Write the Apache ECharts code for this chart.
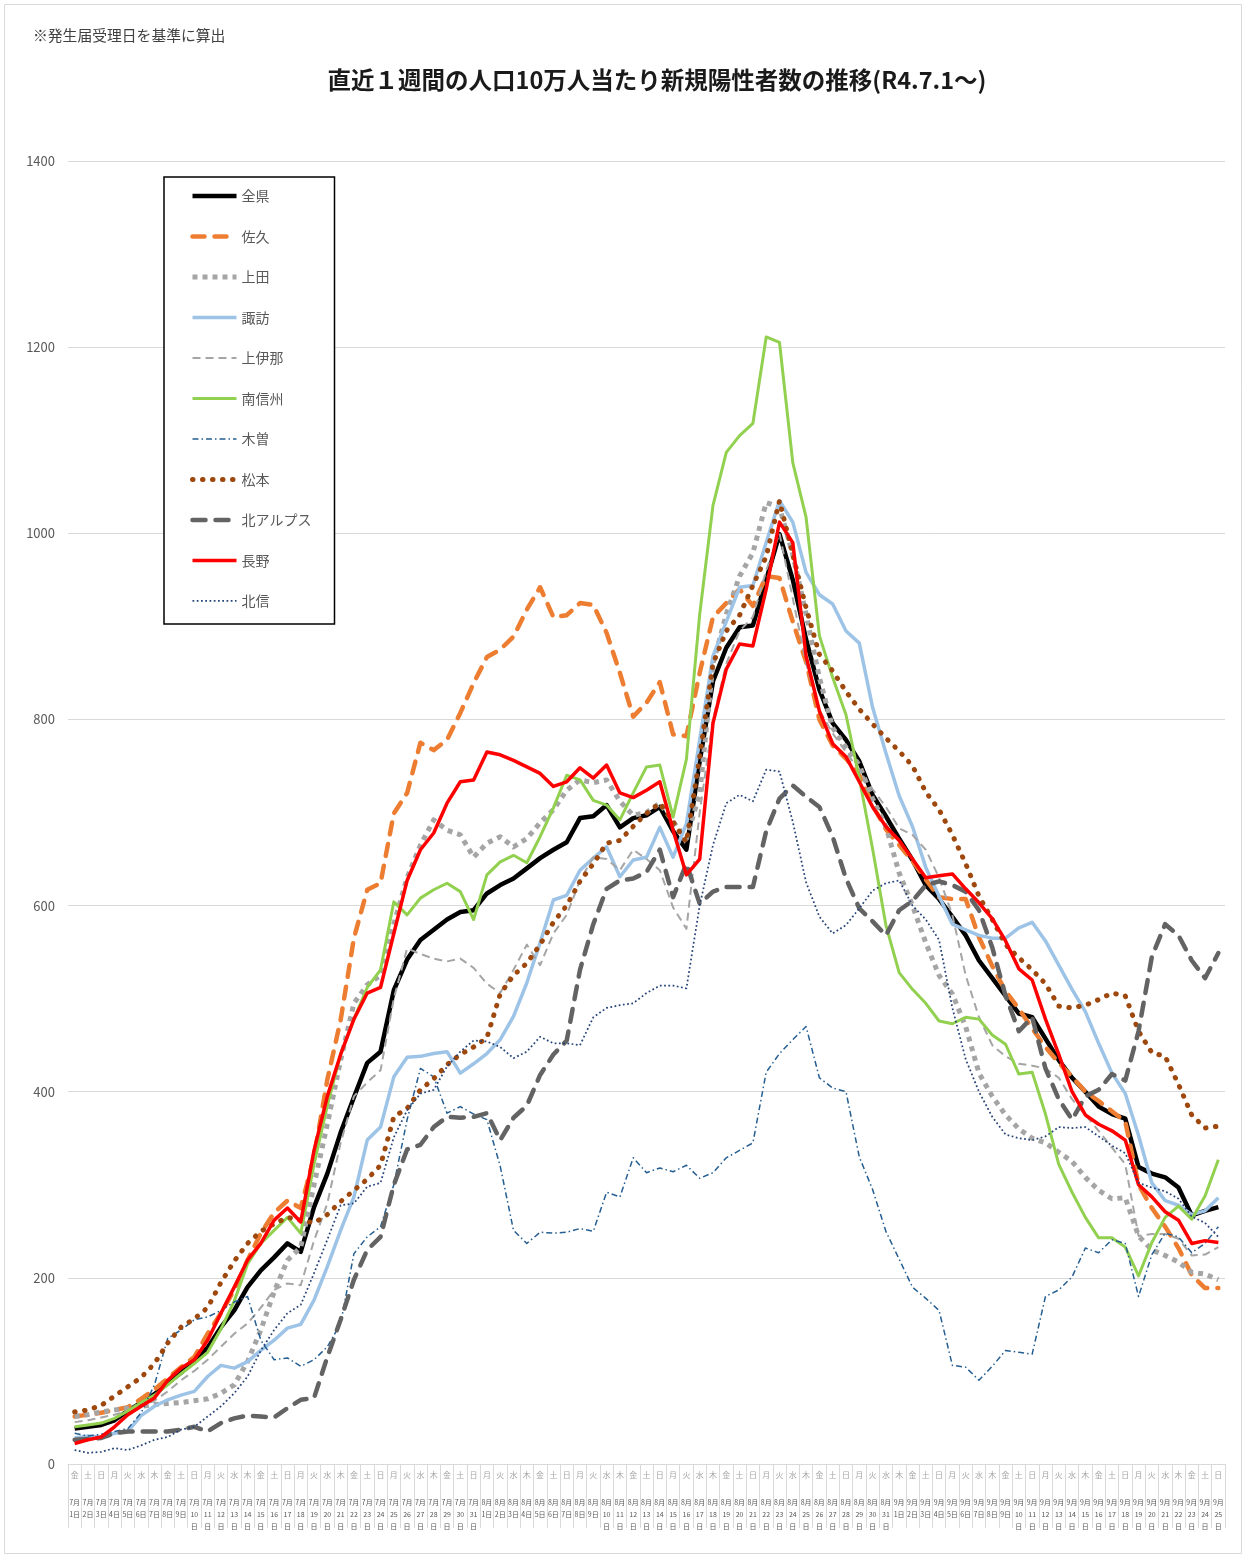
<!DOCTYPE html>
<html><head><meta charset="utf-8">
<script src="https://cdn.jsdelivr.net/npm/echarts@6/dist/echarts.min.js"></script>
<style>html,body{margin:0;padding:0;background:#fff}#c{width:1245px;height:1558px}</style>
</head><body><div id="c"></div>
<script>
const categories = ['7/1','7/2','7/3','7/4','7/5','7/6','7/7','7/8','7/9','7/10','7/11','7/12','7/13','7/14','7/15','7/16','7/17','7/18','7/19','7/20','7/21','7/22','7/23','7/24','7/25','7/26','7/27','7/28','7/29','7/30','7/31',
'8/1','8/2','8/3','8/4','8/5','8/6','8/7','8/8','8/9','8/10','8/11','8/12','8/13','8/14','8/15','8/16','8/17','8/18','8/19','8/20','8/21','8/22','8/23','8/24','8/25','8/26','8/27','8/28','8/29','8/30','8/31',
'9/1','9/2','9/3','9/4','9/5','9/6','9/7','9/8','9/9','9/10','9/11','9/12','9/13','9/14','9/15','9/16','9/17','9/18','9/19','9/20','9/21','9/22','9/23','9/24','9/25'];
const weekdays = ('金土日月火水木金土日月火水木金土日月火水木金土日月火水木金土日' +
  '月火水木金土日月火水木金土日月火水木金土日月火水木金土日月火水' +
  '木金土日月火水木金土日月火水木金土日月火水木金土日').split('');

const zenken = [38,40,42,47,57,66,75,87,98,112, 125,147,165,190,208,222,237,228,276,312, 356,394,431,443,509,542,563,574,585,593, 595,613,622,629,640,651,660,668,694,696, 708,684,694,697,706,680,660,755,841,877, 899,901,950,999,950,886,832,796,778,755, 719,696,672,649,622,607,588,568,541,522, 503,484,480,457,434,415,400,384,376,371, 319,312,308,297,267,272,276];
const saku = [51,53,55,58,61,70,80,92,104,115, 140,162,187,219,248,270,283,275,330,413, 477,565,617,624,699,721,775,767,778,807, 839,867,875,889,918,942,910,912,925,923, 893,850,803,818,840,784,782,850,910,925, 940,922,954,952,905,862,800,772,758,740, 708,682,665,648,628,609,607,607,566,535, 508,489,468,448,431,416,400,390,379,368, 300,275,255,232,203,189,189];
const ueda = [51,53,56,58,60,62,64,65,66,68, 70,76,85,110,144,185,219,233,300,365, 434,495,515,525,580,630,665,692,681,676, 652,667,674,663,672,689,703,724,735,732, 735,712,697,700,710,690,672,720,860,913, 954,979,1033,1028,977,913,845,791,770,751, 715,685,635,600,560,525,505,470,420,395, 375,360,350,345,335,325,308,294,285,286, 245,230,224,217,206,204,198];
const suwa = [28,30,29,33,35,52,62,69,74,78, 94,106,103,110,122,133,146,150,176,212, 251,287,348,362,416,437,438,441,443,420, 430,441,456,481,517,560,606,611,638,651, 663,631,649,652,684,652,688,778,868,905, 942,944,990,1035,1012,958,934,924,895,882, 813,764,718,685,641,610,580,574,568,565, 565,576,582,562,536,510,486,452,420,398, 353,302,283,278,268,272,286];
const kamiina = [45,47,50,53,57,62,68,78,90,100, 112,126,140,151,168,187,194,192,240,280, 345,395,410,423,500,554,548,543,540,543, 533,516,506,531,558,536,570,590,627,652, 650,638,660,650,638,598,575,700,800,860, 895,910,960,1000,930,860,810,785,765,745, 725,706,683,676,660,630,590,525,480,450, 438,430,428,425,415,392,375,358,340,322, 245,247,247,242,224,225,233];
const minami = [40,42,44,49,57,66,74,85,97,108, 120,145,175,215,237,251,265,248,322,385, 440,478,512,531,604,590,608,617,624,615, 585,633,647,654,646,674,705,740,735,713, 708,692,721,749,751,695,757,913,1030,1087, 1105,1118,1211,1205,1076,1017,890,845,805,737, 661,579,528,510,495,476,473,480,478,461, 451,419,421,376,322,292,265,243,243,233, 202,238,265,277,263,288,327];
const kiso = [33,30,32,35,38,55,85,135,144,155, 158,165,174,180,133,112,114,105,112,126, 151,226,244,255,300,370,425,416,377,384, 376,370,320,251,237,249,248,249,253,250, 292,287,329,313,318,314,321,307,313,329, 337,345,421,441,456,470,415,404,400,330, 295,250,220,190,178,165,106,104,90,105, 122,120,118,180,187,201,232,227,241,237, 180,225,248,244,227,237,255];
const matsumoto = [56,58,63,73,83,93,108,130,147,156, 168,195,218,237,250,258,265,262,259,268, 282,294,306,321,373,382,402,414,429,440, 448,458,505,525,538,558,582,600,626,645, 667,670,685,699,710,690,668,760,860,895, 912,944,975,1035,977,920,870,852,830,811, 795,780,766,750,722,703,676,645,610,585, 558,544,531,516,492,490,493,499,506,503, 465,442,438,408,375,361,363];
const kitaalps = [26,27,28,33,35,35,35,35,37,40, 35,44,49,52,51,50,60,69,71,115, 155,198,230,244,300,338,343,362,373,372, 373,377,348,372,385,418,440,455,531,580, 618,627,629,636,660,609,645,602,615,620, 620,620,680,715,729,717,706,674,629,597, 583,568,595,605,622,626,622,615,595,555, 503,465,480,425,392,370,395,402,419,412, 465,545,580,568,541,522,549];
const nagano = [22,26,29,40,53,62,71,90,103,112, 133,162,190,219,237,262,275,260,337,395, 440,478,506,512,570,627,660,678,710,733, 735,765,762,756,749,742,728,733,748,737, 751,721,716,724,733,681,633,650,796,854, 881,879,940,1012,990,868,809,774,760,733, 706,685,670,650,630,632,634,618,603,586, 562,532,520,478,440,400,375,365,358,348, 300,287,271,262,237,240,238];
const hokushin = [15,12,13,17,15,20,26,29,37,40, 51,62,76,94,122,144,162,171,205,241, 278,280,298,302,351,380,398,402,427,443, 455,454,448,436,443,459,452,452,450,480, 490,493,495,506,514,514,511,600,665,710, 719,712,746,744,690,625,588,570,579,597, 616,624,627,600,585,563,490,435,400,373, 354,350,348,352,362,361,362,352,342,334, 302,297,293,285,266,259,244];

const yTicks = [0,200,400,600,800,1000,1200,1400];

const FONT = '"Noto Sans CJK JP","Noto Sans",sans-serif';
const defs = [
  {name:'全県', data:zenken, color:'#000000', width:4.5, type:'solid', cap:'butt'},
  {name:'佐久', data:saku, color:'#ED7D31', width:4.5, type:[12,10], cap:'round'},
  {name:'上田', data:ueda, color:'#A5A5A5', width:5, type:[5,5], cap:'butt'},
  {name:'諏訪', data:suwa, color:'#9DC3E6', width:3.5, type:'solid', cap:'butt'},
  {name:'上伊那', data:kamiina, color:'#A5A5A5', width:2, type:[8,5], cap:'butt'},
  {name:'南信州', data:minami, color:'#92D050', width:3, type:'solid', cap:'butt'},
  {name:'木曽', data:kiso, color:'#255E91', width:1.5, type:[6,3,1.5,3], cap:'butt'},
  {name:'松本', data:matsumoto, color:'#9E480E', width:5, type:[0.5,9.5], cap:'round'},
  {name:'北アルプス', data:kitaalps, color:'#636363', width:4.5, type:[13,10], cap:'round'},
  {name:'長野', data:nagano, color:'#FF0000', width:3.5, type:'solid', cap:'butt'},
  {name:'北信', data:hokushin, color:'#264478', width:1.75, type:[1.75,2.5], cap:'butt'}
];

const chart = echarts.init(document.getElementById('c'), null, {renderer:'canvas'});
chart.setOption({
  animation:false,
  backgroundColor:'#ffffff',
  textStyle:{fontFamily:FONT},
  graphic:[
    {type:'rect', shape:{x:4.5,y:4.5,width:1237,height:1549}, style:{fill:'none', stroke:'#d9d9d9', lineWidth:1}, z:-1},
    {type:'text', x:33, y:35, style:{text:'※発生届受理日を基準に算出', font:'14.8px '+FONT, fill:'#404040', textVerticalAlign:'middle'}},
    {type:'text', x:657, y:80, style:{text:'直近１週間の人口10万人当たり新規陽性者数の推移(R4.7.1～)', font:'bold 23.5px '+FONT, fill:'#1a1a1a', textAlign:'center', textVerticalAlign:'middle'}}
  ],
  grid:{left:68, right:20, top:161, bottom:94, containLabel:false},
  legend:{
    orient:'vertical', left:164, top:177,
    itemWidth:44, itemHeight:14, itemGap:26.5,
    padding:[12,23,16,26],
    borderColor:'#000', borderWidth:1.5, backgroundColor:'#fff',
    textStyle:{fontSize:14, color:'#595959', fontFamily:FONT},
    itemStyle:{opacity:0},
    lineStyle:{width:'inherit'},
    data:defs.map(d=>d.name)
  },
  xAxis:{
    type:'category', data:categories, boundaryGap:true,
    axisLine:{lineStyle:{color:'#d9d9d9', width:1}},
    axisTick:{show:true, interval:0, length:64, lineStyle:{color:'#d9d9d9'}},
    axisLabel:{
      interval:0, margin:2, lineHeight:12,
      formatter:(v, i)=>{
        const [m, d] = v.split('/');
        const dayPart = d.length > 1 ? `{t|${d}}\n{t|日}` : `{t|${d}日}`;
        return `{w|${weekdays[i]}}\n\n{t|${m}月}\n${dayPart}`;
      },
      rich:{
        w:{fontSize:8, color:'#a6a6a6', lineHeight:18, fontFamily:FONT},
        t:{fontSize:7, color:'#595959', lineHeight:12, fontFamily:FONT}
      }
    }
  },
  yAxis:{
    type:'value', min:yTicks[0], max:yTicks[yTicks.length-1], interval:yTicks[1]-yTicks[0],
    axisLine:{show:false}, axisTick:{show:false},
    axisLabel:{fontSize:13, color:'#595959', margin:13, fontFamily:FONT, formatter:v=>String(v)},
    splitLine:{lineStyle:{color:'#d9d9d9', width:1}}
  },
  series:defs.map(d=>({
    name:d.name, type:'line', data:d.data, symbol:'none', showSymbol:false,
    smooth:false, color:d.color,
    lineStyle:{color:d.color, width:d.width, type:d.type, cap:d.cap, join:'round'},
    emphasis:{disabled:true}
  }))
});
</script></body></html>
